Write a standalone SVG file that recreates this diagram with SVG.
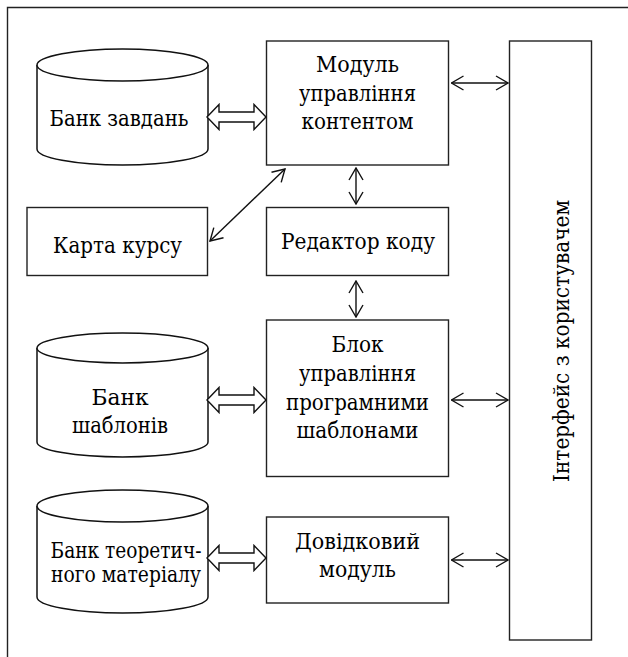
<svg xmlns="http://www.w3.org/2000/svg" width="628" height="657" viewBox="0 0 628 657">
<style>
.box{fill:#fff;stroke:#222;stroke-width:1.4}
.cyl{fill:#fff;stroke:#111;stroke-width:1.5}
text{font-family:'DejaVu Serif Condensed','DejaVu Serif',serif;font-size:23px;fill:#000;text-anchor:middle}
.sm{font-size:21.5px}
.c{fill:none;stroke:#111;stroke-width:1.4}
.ha{fill:#fff;stroke:#111;stroke-width:1.4;stroke-linejoin:miter}
</style>
<defs>
<marker id="ah" viewBox="0 0 14 16" refX="13" refY="8" markerWidth="14" markerHeight="16" markerUnits="userSpaceOnUse" orient="auto-start-reverse">
<path d="M1,1 L13,8 L1,15" fill="none" stroke="#111" stroke-width="1.4"/>
</marker>
</defs>
<rect width="628" height="657" fill="#fff"/>
<path d="M7.5,657 L7.5,7.5 L628,7.5" fill="none" stroke="#222" stroke-width="1.4"/>

<g id="bank-zavdan">
<path class="cyl" d="M37,65 L37,149 A85.5,16 0 0 0 208,149 L208,65"/>
<ellipse class="cyl" cx="122.5" cy="65" rx="85.5" ry="16"/>
<text x="119" y="126" textLength="139" lengthAdjust="spacingAndGlyphs">Банк завдань</text>
</g>

<g id="karta-kursu">
<rect class="box" x="27" y="207.5" width="180.5" height="68"/>
<text x="117.5" y="252.5" textLength="129" lengthAdjust="spacingAndGlyphs">Карта курсу</text>
</g>

<g id="bank-shabloniv">
<path class="cyl" d="M37,348 L37,442 A85.5,15 0 0 0 208,442 L208,348"/>
<ellipse class="cyl" cx="122.5" cy="348" rx="85.5" ry="15"/>
<text x="120" y="405" textLength="57" lengthAdjust="spacingAndGlyphs">Банк</text>
<text x="120" y="433" textLength="96" lengthAdjust="spacingAndGlyphs">шаблонів</text>
</g>

<g id="bank-teoretychnoho">
<path class="cyl" d="M37,506 L37,597 A85.5,16 0 0 0 208,597 L208,506"/>
<ellipse class="cyl" cx="122.5" cy="506" rx="85.5" ry="16"/>
<text class="sm" x="126" y="558" textLength="151" lengthAdjust="spacingAndGlyphs">Банк теоретич-</text>
<text class="sm" x="126" y="581.5" textLength="150" lengthAdjust="spacingAndGlyphs">ного матеріалу</text>
</g>

<g id="modul-kontentu">
<rect class="box" x="266.5" y="41" width="182" height="124"/>
<text x="357.5" y="71.5" textLength="83" lengthAdjust="spacingAndGlyphs">Модуль</text>
<text x="357.5" y="100.5" textLength="117" lengthAdjust="spacingAndGlyphs">управління</text>
<text x="357.5" y="129" textLength="112" lengthAdjust="spacingAndGlyphs">контентом</text>
</g>

<g id="redaktor-kodu">
<rect class="box" x="266.5" y="207.5" width="182" height="68"/>
<text x="358" y="249" textLength="154" lengthAdjust="spacingAndGlyphs">Редактор коду</text>
</g>

<g id="blok-shabloniv">
<rect class="box" x="266.5" y="320" width="182" height="156.5"/>
<text x="357.5" y="351.5" textLength="52" lengthAdjust="spacingAndGlyphs">Блок</text>
<text x="357.5" y="381" textLength="117" lengthAdjust="spacingAndGlyphs">управління</text>
<text x="357.5" y="410" textLength="143" lengthAdjust="spacingAndGlyphs">програмними</text>
<text x="357.5" y="438" textLength="122" lengthAdjust="spacingAndGlyphs">шаблонами</text>
</g>

<g id="dovidkovyi-modul">
<rect class="box" x="266.5" y="517" width="182" height="86"/>
<text x="357.5" y="549" textLength="125" lengthAdjust="spacingAndGlyphs">Довідковий</text>
<text x="357.5" y="576.5" textLength="77" lengthAdjust="spacingAndGlyphs">модуль</text>
</g>

<g id="interfeis">
<rect class="box" x="509.5" y="41" width="82" height="599"/>
<text transform="translate(569,341) rotate(-90)" textLength="282" lengthAdjust="spacingAndGlyphs">Інтерфейс з користувачем</text>
</g>

<g id="connectors">
<polygon class="ha" points="207,117 219,104.5 219,112 254,112 254,104.5 266,117 254,129.5 254,122 219,122 219,129.5"/>
<polygon class="ha" points="207,400 219,387.5 219,395 254,395 254,387.5 266,400 254,412.5 254,405 219,405 219,412.5"/>
<polygon class="ha" points="207,558 219,545.5 219,553 254,553 254,545.5 266,558 254,570.5 254,563 219,563 219,570.5"/>
<line class="c" x1="285" y1="169" x2="210" y2="241" marker-start="url(#ah)" marker-end="url(#ah)"/>
<line class="c" x1="356" y1="168" x2="356" y2="204" marker-start="url(#ah)" marker-end="url(#ah)"/>
<line class="c" x1="356" y1="281" x2="356" y2="317" marker-start="url(#ah)" marker-end="url(#ah)"/>
<line class="c" x1="451.5" y1="83" x2="508" y2="83" marker-start="url(#ah)" marker-end="url(#ah)"/>
<line class="c" x1="451.5" y1="400" x2="508" y2="400" marker-start="url(#ah)" marker-end="url(#ah)"/>
<line class="c" x1="451.5" y1="560" x2="508" y2="560" marker-start="url(#ah)" marker-end="url(#ah)"/>
</g>
</svg>
